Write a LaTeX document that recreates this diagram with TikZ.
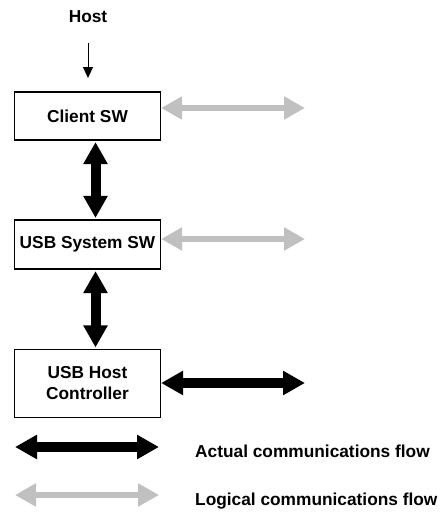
\documentclass[tikz,border=0pt]{standalone}
\usepackage{fontspec}
\setmainfont{Liberation Sans}
\usetikzlibrary{arrows.meta}
\definecolor{lgray}{RGB}{192,192,192}
\begin{document}
\begin{tikzpicture}[x=1pt,y=-1pt,
  box/.style={draw=black, line width=1.2pt, minimum width=146pt, inner sep=0pt,
    align=center, font=\bfseries\fontsize{17.3}{21}\selectfont},
  lbl/.style={font=\bfseries\fontsize{17.3}{21}\selectfont, inner sep=0pt},
  act/.style={line width=10pt, black,
    {Triangle[length=22pt,width=23pt]}-{Triangle[length=22pt,width=23pt]}},
  lgc/.style={line width=6.5pt, lgray,
    {Triangle[length=21pt,width=22pt]}-{Triangle[length=21pt,width=22pt]}},
  hostarrow/.style={line width=1pt, black, -{Triangle[length=11pt,width=10pt]}}
]
\useasboundingbox (0,0) rectangle (445,512);

\node[lbl, anchor=base] (host) at (88,22) {Host};
\coordinate (hostin) at (88,78);

\node[box, minimum height=48pt] (client) at (87.5,116) {Client SW};
\node[box, minimum height=49pt] (sys) at (87.5,244.5) {USB System SW};
\node[box, minimum height=68pt] (hc) at (87.5,383.5) {USB Host\\Controller};

\coordinate (cl) at (305,108);
\coordinate (sl) at (305,239);
\coordinate (hl) at (305,383);

\coordinate (la1) at (15,447);
\coordinate (la2) at (159,447);
\coordinate (ll1) at (15,495);
\coordinate (ll2) at (159,495);

\draw[hostarrow, shorten <=21pt] (host.south) -- (hostin);

\draw[act, shorten <=1.5pt, shorten >=1.5pt] ([xshift=8pt]client.south) -- ([xshift=8pt]sys.north);
\draw[act, shorten <=1.5pt, shorten >=1.5pt] ([xshift=8pt]sys.south) -- ([xshift=8pt]hc.north);

\draw[lgc] (client.east |- cl) -- (cl);
\draw[lgc] (sys.east |- sl) -- (sl);
\draw[act] (hc.east |- hl) -- (hl);

\draw[act] (la1) -- (la2);
\draw[lgc] (ll1) -- (ll2);

\node[lbl, anchor=base west] (actual) at (195,457) {Actual communications flow};
\node[lbl, anchor=base west] (logical) at (195,505) {Logical communications flow};
\end{tikzpicture}
\end{document}
